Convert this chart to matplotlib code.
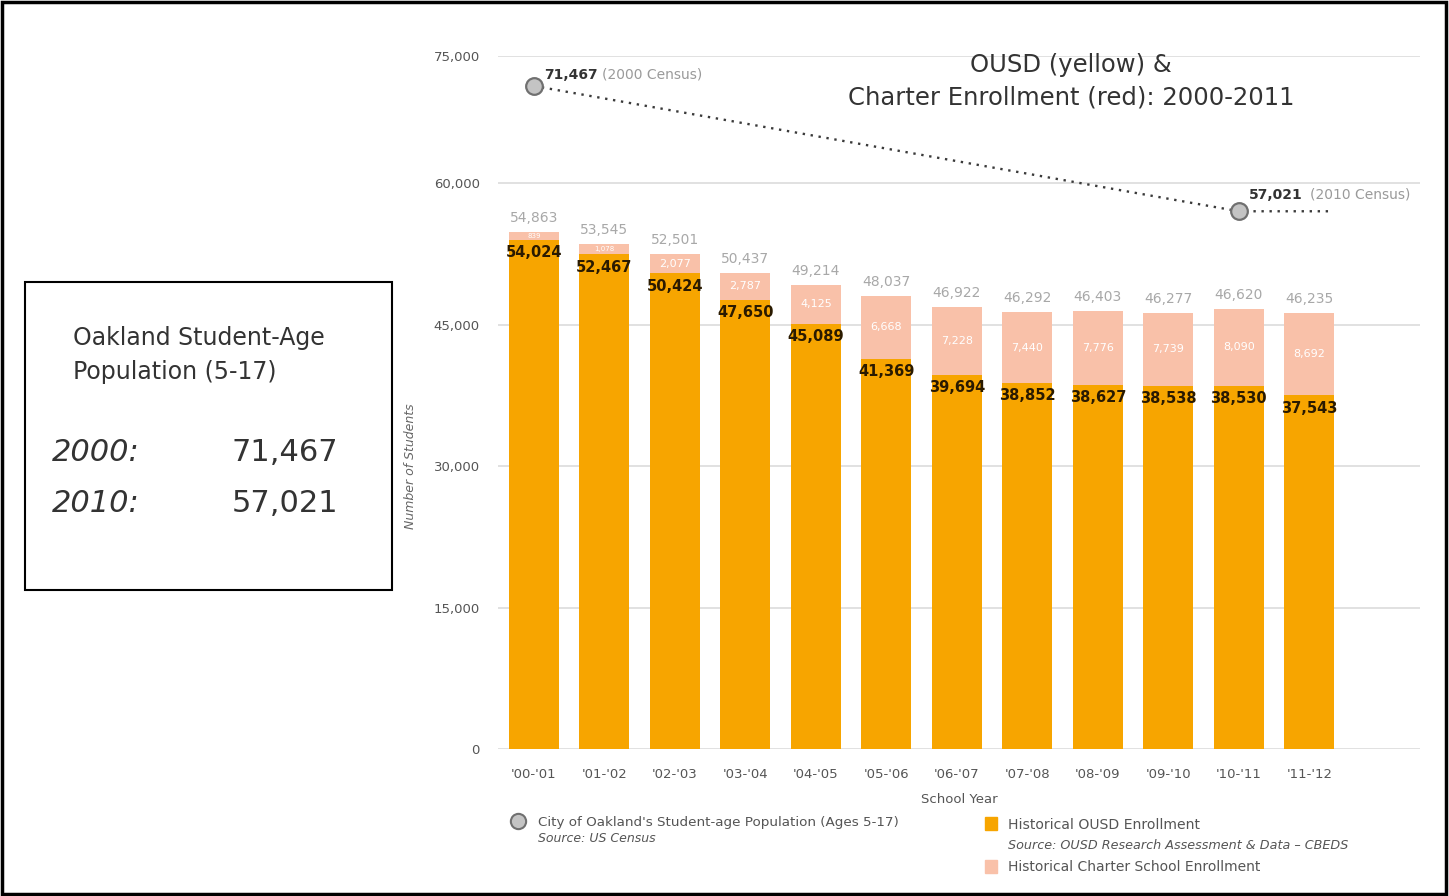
import matplotlib
matplotlib.use("Agg")
import matplotlib.pyplot as plt
import numpy as np
from matplotlib.patches import Rectangle
from matplotlib.lines import Line2D

years = ["'00-'01", "'01-'02", "'02-'03", "'03-'04", "'04-'05", "'05-'06",
         "'06-'07", "'07-'08", "'08-'09", "'09-'10", "'10-'11", "'11-'12"]
ousd = [54024, 52467, 50424, 47650, 45089, 41369, 39694, 38852, 38627, 38538, 38530, 37543]
charter = [839, 1078, 2077, 2787, 4125, 6668, 7228, 7440, 7776, 7739, 8090, 8692]
totals = [54863, 53545, 52501, 50437, 49214, 48037, 46922, 46292, 46403, 46277, 46620, 46235]
census_x = [0, 10]
census_y = [71467, 57021]
census_labels = ["71,467", "57,021"]
census_years = ["(2000 Census)", "(2010 Census)"]
yticks = [0, 15000, 30000, 45000, 60000, 75000]

ORANGE = "#F7A500"
PINK = "#F9C1A9"
NARROW = ["DejaVu Sans"]
LIGHT = ["DejaVu Sans"]

# the upper band (above 60,000) of the original chart is slightly compressed
K = 0.899
BREAK = 60000.0


def fwd(y):
    y = np.asarray(y, dtype=float)
    return np.where(y <= BREAK, y, BREAK + (y - BREAK) * K)


def inv(f):
    f = np.asarray(f, dtype=float)
    return np.where(f <= BREAK, f, BREAK + (f - BREAK) / K)


fig = plt.figure(figsize=(14.49, 8.96), dpi=100)
ax = fig.add_axes([498/1449, 1-749/896, (1420-498)/1449, (749-56)/896])
ax.set_yscale("function", functions=(fwd, inv))

x = list(range(len(years)))
ax.bar(x, ousd, width=0.71, color=ORANGE, zorder=2)
ax.bar(x, charter, bottom=ousd, width=0.71, color=PINK, zorder=2)

for i in x:
    ax.annotate(f"{totals[i]:,}", (i, totals[i]), xytext=(0, 5), textcoords="offset points",
                ha="center", va="bottom", color="#a8a8a8", fontsize=10, family=NARROW)
    ax.annotate(f"{ousd[i]:,}", (i, ousd[i]), xytext=(0, -4), textcoords="offset points",
                ha="center", va="top", color="#2a1a00", fontsize=10.5, fontweight="bold", family=NARROW)
    ax.text(i, ousd[i] + charter[i] / 2, f"{charter[i]:,}", ha="center", va="center",
            color="white", fontsize=8 if charter[i] > 1500 else 5, family=NARROW)

# census dotted line
ax.plot(census_x + [11.3], census_y + [census_y[1]], linestyle=(0, (1, 2.4)), color="#3a3a3a",
        linewidth=1.7, zorder=3)
ax.plot(census_x, census_y, "o", markersize=12, markerfacecolor="#c4c4c4",
        markeredgecolor="#707070", markeredgewidth=1.6, zorder=4)
ax.annotate(census_labels[0], (census_x[0], census_y[0]), xytext=(7, 3), textcoords="offset points",
            ha="left", va="bottom", fontsize=10, fontweight="bold", color="#333333")
ax.annotate(census_years[0], (census_x[0], census_y[0]), xytext=(49, 3), textcoords="offset points",
            ha="left", va="bottom", fontsize=10, color="#9a9a9a")
ax.annotate(census_labels[1], (census_x[1], census_y[1]), xytext=(7, 7), textcoords="offset points",
            ha="left", va="bottom", fontsize=10, fontweight="bold", color="#333333")
ax.annotate(census_years[1], (census_x[1], census_y[1]), xytext=(51, 7), textcoords="offset points",
            ha="left", va="bottom", fontsize=10, color="#9a9a9a")

ax.set_xlim(-0.51, 12.57)
ax.set_ylim(0, 75000)
ax.set_yticks(yticks)
ax.set_yticklabels([f"{v:,}" for v in yticks], family=NARROW, fontsize=9.5, color="#555555")
ax.set_xticks(x)
ax.set_xticklabels(years, family=NARROW, fontsize=9.5, color="#555555")
ax.tick_params(length=0, pad=14)
ax.tick_params(axis="y", pad=13)
ax.yaxis.grid(True, color="#dcdcdc", linewidth=1.2, zorder=0)
ax.set_axisbelow(True)
for s in ax.spines.values():
    s.set_visible(False)
ax.set_xlabel("School Year", family=NARROW, fontsize=9.5, color="#555555", labelpad=8)
ax.set_ylabel("Number of Students", family=NARROW, fontsize=9, color="#666666", style="italic")
ax.yaxis.set_label_coords(-0.0879, 0.408)

# title
fig.text(1071/1449, 1-65/896, "OUSD (yellow) &", ha="center", va="center", fontsize=17.5,
         family=LIGHT, color="#333333")
fig.text(1071/1449, 1-98/896, "Charter Enrollment (red): 2000-2011", ha="center", va="center",
         fontsize=17.5, family=LIGHT, color="#333333")

# left box
fig.add_artist(Rectangle((25/1449, 1-590/896), (392-25)/1449, (590-282)/896,
                         transform=fig.transFigure, fill=False, edgecolor="black", linewidth=1.5))
fig.text(73/1449, 1-338/896, "Oakland Student-Age", fontsize=17, family=LIGHT, va="center", color="#333333")
fig.text(73/1449, 1-372/896, "Population (5-17)", fontsize=17, family=LIGHT, va="center", color="#333333")
fig.text(52/1449, 1-452/896, "2000:", fontsize=22, family=LIGHT, style="italic", va="center", color="#333333")
fig.text(52/1449, 1-503/896, "2010:", fontsize=22, family=LIGHT, style="italic", va="center", color="#333333")
fig.text(232/1449, 1-452/896, census_labels[0], fontsize=22, family=LIGHT, va="center", color="#333333")
fig.text(232/1449, 1-503/896, census_labels[1], fontsize=22, family=LIGHT, va="center", color="#333333")

# legend
fig.add_artist(Line2D([518/1449], [1-821/896], marker="o", markersize=11, markerfacecolor="#c4c4c4",
                      markeredgecolor="#707070", markeredgewidth=1.5, transform=fig.transFigure))
fig.text(538/1449, 1-822/896, "City of Oakland's Student-age Population (Ages 5-17)", fontsize=9.7,
         family=NARROW, va="center", color="#555555")
fig.text(538/1449, 1-838/896, "Source: US Census", fontsize=9, family=NARROW, style="italic",
         va="center", color="#555555")
fig.add_artist(Rectangle((985/1449, 1-830/896), 12/1449, 13/896, transform=fig.transFigure,
                         color=ORANGE))
fig.text(1008/1449, 1-825/896, "Historical OUSD Enrollment", fontsize=10.1, family=NARROW,
         va="center", color="#555555")
fig.text(1008/1449, 1-845/896, "Source: OUSD Research Assessment & Data – CBEDS", fontsize=9.2,
         family=NARROW, style="italic", va="center", color="#555555")
fig.add_artist(Rectangle((985/1449, 1-873/896), 12/1449, 13/896, transform=fig.transFigure,
                         color=PINK))
fig.text(1008/1449, 1-867/896, "Historical Charter School Enrollment", fontsize=10,
         family=NARROW, va="center", color="#555555")

# outer border
fig.add_artist(Rectangle((2/1449, 2/896), 1444/1449, 892/896, transform=fig.transFigure,
                         fill=False, edgecolor="black", linewidth=2.5))

fig.savefig("out.png", dpi=100)
